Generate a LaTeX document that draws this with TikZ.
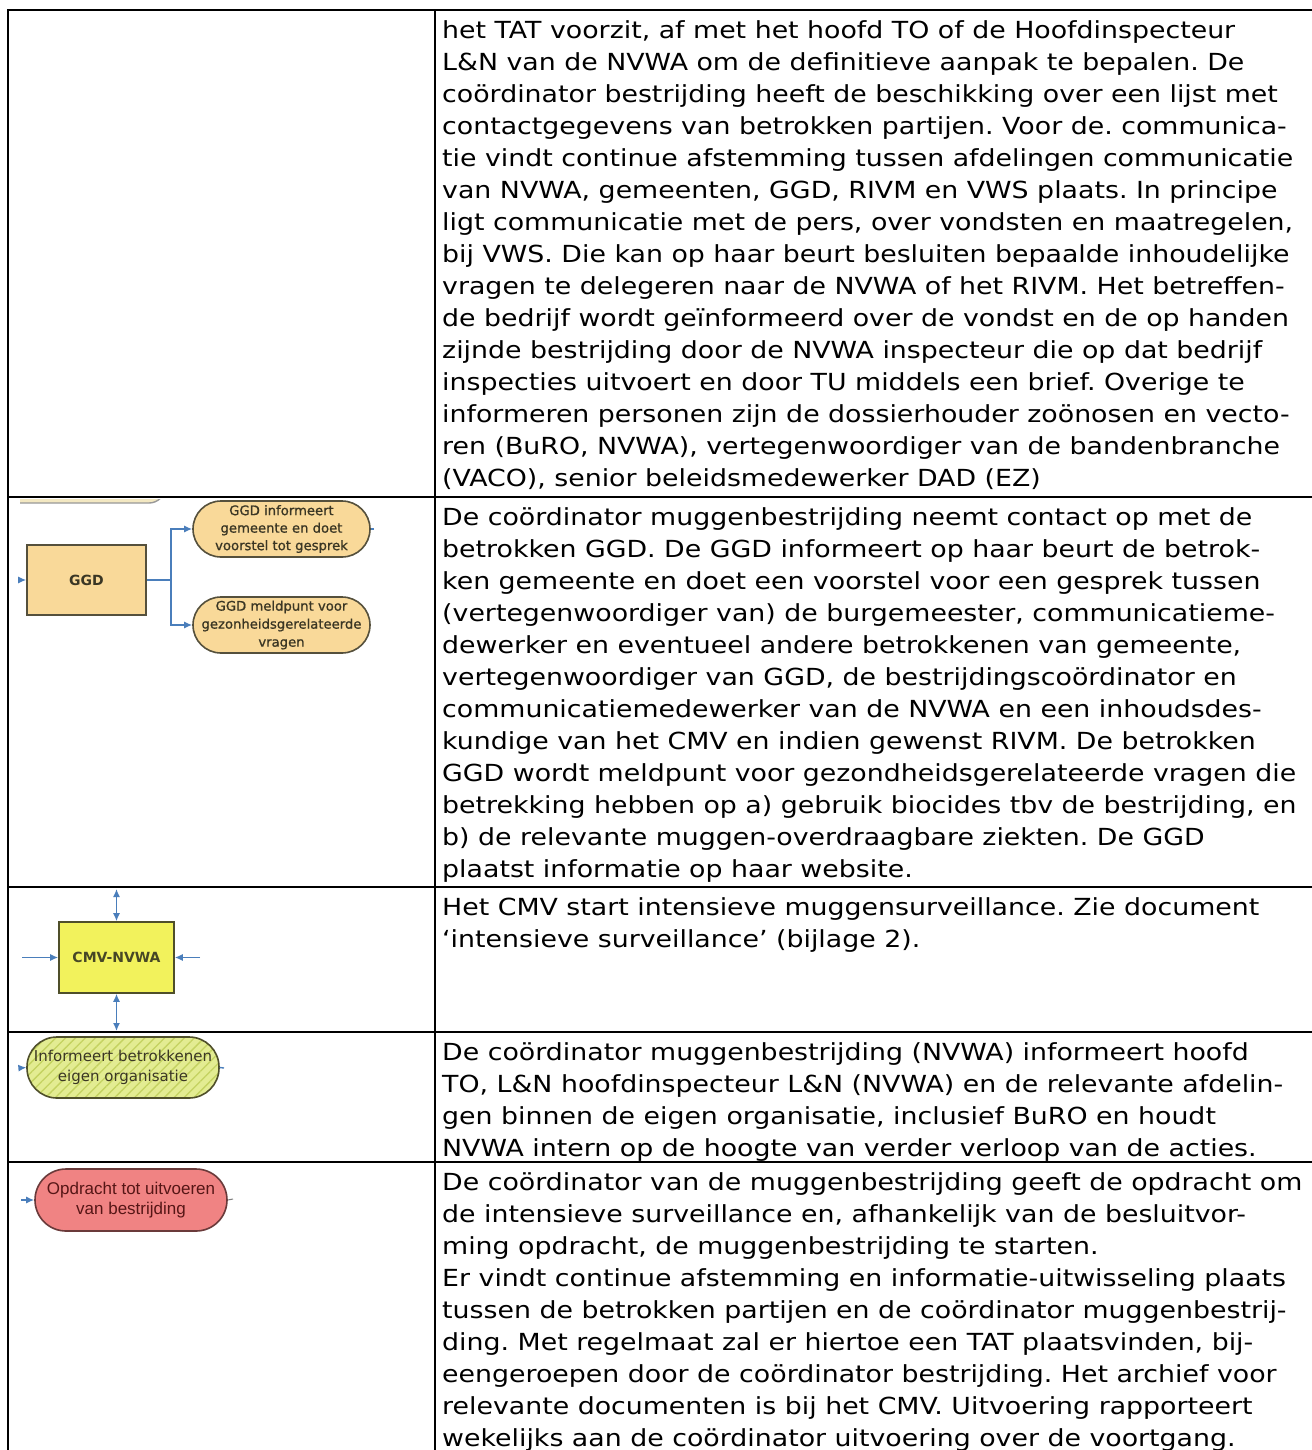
\documentclass[tikz,border=0pt]{standalone}
\usepackage{fontspec}
\setmainfont[FakeStretch=1.14]{DejaVu Sans}
\newfontfamily\flowf{DejaVu Sans}
\newfontfamily\flowbold[FakeBold=1]{DejaVu Sans}
\newfontfamily\arialf{Liberation Sans}
\usetikzlibrary{arrows.meta,patterns.meta}
\definecolor{conn}{HTML}{4A7EBB}
\definecolor{ggdfill}{HTML}{F9D999}
\definecolor{ggdline}{HTML}{55503C}
\definecolor{cmvfill}{HTML}{F2F25C}
\definecolor{cmvline}{HTML}{4F4F2A}
\definecolor{inffill}{HTML}{E3EC92}
\definecolor{infhatch}{HTML}{C4D260}
\definecolor{opdfill}{HTML}{F08383}
\definecolor{opdline}{HTML}{6A3A3A}
\definecolor{opdtext}{HTML}{561616}
\definecolor{darktext}{HTML}{3A3624}
\definecolor{partfill}{HTML}{F3E8C2}
\tikzset{
  tline/.style={line width=2.5pt, black, line cap=rect},
  rowtext/.style={anchor=north west, inner sep=0pt, align=left,
    font=\frenchspacing\fontsize{23.5}{32}\selectfont},
  connline/.style={draw=conn, line width=1.4pt},
  conntip/.style={connline, -{Latex[length=8pt,width=7pt]}},
  conntwo/.style={connline, {Latex[length=8pt,width=7pt]}-{Latex[length=8pt,width=7pt]}},
  flowbox/.style={draw, line width=1.6pt, inner sep=0pt, align=center},
  pillbox/.style={flowbox, rounded corners=#1},
}
\begin{document}
\begin{tikzpicture}[x=1pt,y=-1pt]
\useasboundingbox (0,0) rectangle (1311,1450);
\fill[white] (0,0) rectangle (1311,1450);

% ---------- table grid ----------
\draw[tline] (8,10) -- (1311,10);
\draw[tline] (8,497) -- (1311,497);
\draw[tline] (8,887) -- (1311,887);
\draw[tline] (8,1032) -- (1311,1032);
\draw[tline] (8,1162) -- (1311,1162);
\draw[tline] (8,10) -- (8,1460);
\draw[tline] (435,10) -- (435,1460);

% ---------- right column texts ----------
\node[rowtext] (t1) at (442,15.6) {\strut het TAT voorzit, af met het hoofd TO of de Hoofdinspecteur\\
L\&N van de NVWA om de definitieve aanpak te bepalen. De\\
coördinator bestrijding heeft de beschikking over een lijst met\\
contactgegevens van betrokken partijen. Voor de. communica-\\
tie vindt continue afstemming tussen afdelingen communicatie\\
van NVWA, gemeenten, GGD, RIVM en VWS plaats. In principe\\
ligt communicatie met de pers, over vondsten en maatregelen,\\
bij VWS. Die kan op haar beurt besluiten bepaalde inhoudelijke\\
vragen te delegeren naar de NVWA of het RIVM. Het betreffen-\\
de bedrijf wordt geïnformeerd over de vondst en de op handen\\
zijnde bestrijding door de NVWA inspecteur die op dat bedrijf\\
inspecties uitvoert en door TU middels een brief. Overige te\\
informeren personen zijn de dossierhouder zoönosen en vecto-\\
ren (BuRO, NVWA), vertegenwoordiger van de bandenbranche\\
(VACO), senior beleidsmedewerker DAD (EZ)};

\node[rowtext] (t2) at (442,502.6) {\strut De coördinator muggenbestrijding neemt contact op met de\\
betrokken GGD. De GGD informeert op haar beurt de betrok-\\
ken gemeente en doet een voorstel voor een gesprek tussen\\
(vertegenwoordiger van) de burgemeester, communicatieme-\\
dewerker en eventueel andere betrokkenen van gemeente,\\
vertegenwoordiger van GGD, de bestrijdingscoördinator en\\
communicatiemedewerker van de NVWA en een inhoudsdes-\\
kundige van het CMV en indien gewenst RIVM. De betrokken\\
GGD wordt meldpunt voor gezondheidsgerelateerde vragen die\\
betrekking hebben op a) gebruik biocides tbv de bestrijding, en\\
b) de relevante muggen-overdraagbare ziekten. De GGD\\
plaatst informatie op haar website.};

\node[rowtext] (t3) at (442,892.6) {\strut Het CMV start intensieve muggensurveillance. Zie document\\
‘intensieve surveillance’ (bijlage 2).};

\node[rowtext] (t4) at (442,1037.6) {\strut De coördinator muggenbestrijding (NVWA) informeert hoofd\\
TO, L\&N hoofdinspecteur L\&N (NVWA) en de relevante afdelin-\\
gen binnen de eigen organisatie, inclusief BuRO en houdt\\
NVWA intern op de hoogte van verder verloop van de acties.};

\node[rowtext] (t5) at (442,1167.6) {\strut De coördinator van de muggenbestrijding geeft de opdracht om\\
de intensieve surveillance en, afhankelijk van de besluitvor-\\
ming opdracht, de muggenbestrijding te starten.\\
Er vindt continue afstemming en informatie-uitwisseling plaats\\
tussen de betrokken partijen en de coördinator muggenbestrij-\\
ding. Met regelmaat zal er hiertoe een TAT plaatsvinden, bij-\\
eengeroepen door de coördinator bestrijding. Het archief voor\\
relevante documenten is bij het CMV. Uitvoering rapporteert\\
wekelijks aan de coördinator uitvoering over de voortgang.};

% ---------- row 2 : GGD ----------
\begin{scope}
\clip (20,499) rectangle (375,660);
\draw[fill=partfill, draw=black!40, line width=1.4pt, rounded corners=16pt] (0,460) rectangle (165,503);
\end{scope}
\node[flowbox, draw=ggdline, fill=ggdfill, text=darktext, minimum width=119pt, minimum height=70pt,
  font=\flowf\bfseries\fontsize{14}{16}\selectfont] (ggd) at (86.5,580) {GGD};
\node[pillbox=28pt, draw=ggdline, fill=ggdfill, text=darktext, minimum width=177pt, minimum height=56pt,
  font=\flowbold\fontsize{13.2}{17.5}\selectfont] (p1) at (281.5,529) {GGD informeert\\gemeente en doet\\voorstel tot gesprek};
\node[pillbox=28pt, draw=ggdline, fill=ggdfill, text=darktext, minimum width=177pt, minimum height=56pt,
  font=\flowbold\fontsize{13.2}{18}\selectfont] (p2) at (281.5,625) {GGD meldpunt voor\\gezonheidsgerelateerde\\vragen};
\coordinate (ggdin) at (20,580);
\coordinate (p1out) at (374,529);
\draw[conntip] (ggdin) -- (ggd.west);
\draw[conntip] (ggd.east) -- ++(24,0) |- (p1.west);
\draw[conntip] (ggd.east) -- ++(24,0) |- (p2.west);
\draw[connline] (p1.east) -- (p1out);

% ---------- row 3 : CMV-NVWA ----------
\node[flowbox, draw=cmvline, fill=cmvfill, text=cmvline!90!black, minimum width=115pt, minimum height=71pt,
  font=\flowf\bfseries\fontsize{14}{16}\selectfont] (cmv) at (116.5,957.5) {CMV-NVWA};
\coordinate (cmvtop) at (116.5,889);
\coordinate (cmvbot) at (116.5,1031);
\coordinate (cmvleft) at (22,957.5);
\coordinate (cmvright) at (200,957.5);
\draw[conntwo] (cmvtop) -- (cmv.north);
\draw[conntwo] (cmv.south) -- (cmvbot);
\draw[conntip] (cmvleft) -- (cmv.west);
\draw[conntip] (cmvright) -- (cmv.east);

% ---------- row 4 : Informeert ----------
\node[pillbox=30pt, draw=cmvline, preaction={fill=inffill},
  pattern={Lines[angle=45,distance=7pt,line width=1.3pt]}, pattern color=infhatch,
  text=darktext, minimum width=192pt, minimum height=61pt,
  font=\flowf\fontsize{15}{20}\selectfont] (inf) at (123,1067.5) {Informeert betrokkenen\\eigen organisatie};
\coordinate (infin) at (20,1068);
\coordinate (infout) at (224,1068);
\draw[conntip] (infin) -- (inf.west);
\draw[connline] (inf.east) -- (infout);

% ---------- row 5 : Opdracht ----------
\node[pillbox=31pt, draw=opdline, fill=opdfill, text=opdtext, minimum width=192pt, minimum height=62pt,
  font=\arialf\fontsize{17}{20}\selectfont] (opd) at (131,1200) {Opdracht tot uitvoeren\\van bestrijding};
\coordinate (opdin) at (21,1200);
\coordinate (opdout) at (233,1199);
\draw[conntip] (opdin) -- (opd.west);
\draw[connline, draw=black!50, line width=1pt] (opd.east) -- (opdout);
\end{tikzpicture}
\end{document}
